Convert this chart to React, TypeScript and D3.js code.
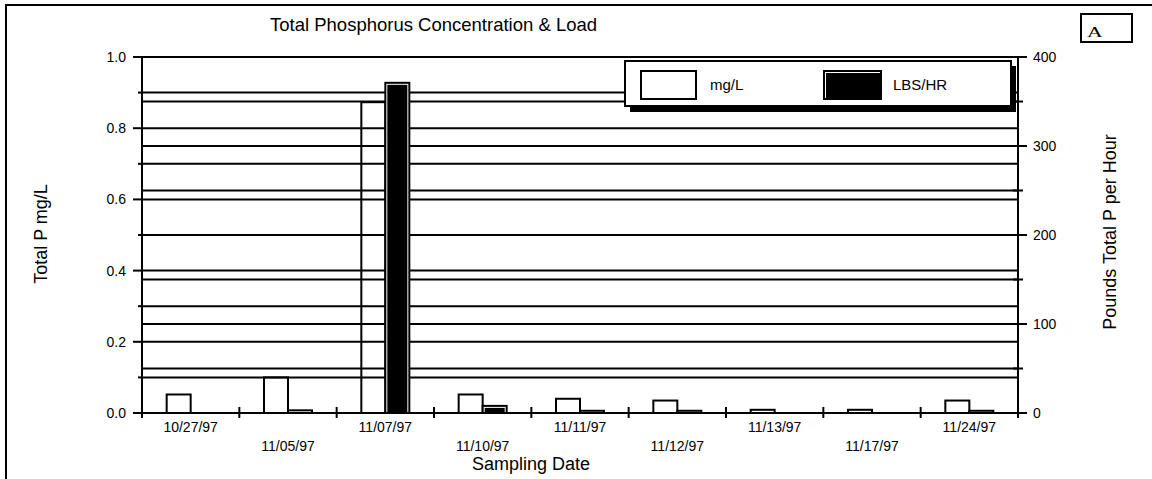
import React from "react";
import * as d3 from "d3";

const categories = ["10/27/97", "11/05/97", "11/07/97", "11/10/97", "11/11/97", "11/12/97", "11/13/97", "11/17/97", "11/24/97"];
const mgL = [0.052, 0.1, 0.873, 0.052, 0.04, 0.035, 0.009, 0.009, 0.035];
const lbsHr = [0, 3, 371, 8, 2.5, 2.5, 0, 0, 2.5];
const seriesNames = ["mg/L", "LBS/HR"];
const leftTicks = [0, 0.2, 0.4, 0.6, 0.8, 1.0];
const leftMinor = [0.1, 0.3, 0.5, 0.7, 0.9];
const rightTicks = [0, 100, 200, 300, 400];
const rightMinor = [50, 150, 250, 350];

const W = 1152, H = 479;
const L = 142, R = 1018, T = 57, B = 413;
const FONT = "'Liberation Sans', Arial, sans-serif";

export default function App() {
  const x = d3.scaleBand<string>().domain(categories).range([L, R]).padding(0);
  const bw = x.bandwidth();
  const sub = d3.scaleBand<string>().domain(seriesNames).range([bw / 2 - 24, bw / 2 + 24]).padding(0);
  const yL = d3.scaleLinear().domain([0, 1]).range([B, T]);
  const yR = d3.scaleLinear().domain([0, 400]).range([B, T]);
  const sw = sub.bandwidth();

  const gridL = d3.range(0, 11).map((i) => i / 10);
  const gridR = d3.range(0, 9).map((i) => i * 50);

  return (
    <svg width={W} height={H} style={{ position: "absolute", left: 0, top: 0, background: "#fff" }} fontFamily={FONT}>
      <rect x={6} y={5} width={1300} height={700} fill="none" stroke="#000" strokeWidth={2} />
      <text x={270} y={31} fontSize={18.5}>Total Phosphorus Concentration &amp; Load</text>
      <rect x={1081} y={14} width={51} height={28} fill="none" stroke="#000" strokeWidth={2} />
      <text transform="translate(1087,37) scale(1.45,1)" fontSize={15} fontFamily="'Liberation Serif', 'Times New Roman', serif">A</text>

      {/* gridlines */}
      {gridL.map((v) => (
        <line key={"gl" + v} x1={L} x2={R} y1={yL(v)} y2={yL(v)} stroke="#000" strokeWidth={2} />
      ))}
      {gridR.map((v) => (
        <line key={"gr" + v} x1={L} x2={R} y1={yR(v)} y2={yR(v)} stroke="#000" strokeWidth={2} />
      ))}

      {/* mg/L bars */}
      {categories.map((c, i) => (
        <rect key={"m" + c} x={(x(c) as number) + (sub("mg/L") as number)} y={yL(mgL[i])} width={sw} height={B - yL(mgL[i])}
          fill="none" stroke="#000" strokeWidth={2} />
      ))}
      {/* LBS/HR bars */}
      {categories.map((c, i) => {
        const bx = (x(c) as number) + (sub("LBS/HR") as number);
        const by = yR(lbsHr[i]);
        const h = B - by;
        if (h <= 0) return null;
        return (
          <g key={"b" + c}>
            <rect x={bx} y={by} width={sw} height={h} fill="#fff" stroke="#000" strokeWidth={2} />
            {h > 4 && <rect x={bx + 2} y={by + 2} width={sw - 4} height={h - 2} fill="#000" />}
          </g>
        );
      })}

      {/* axes */}
      <line x1={L} x2={L} y1={T} y2={B} stroke="#000" strokeWidth={2} />
      <line x1={R} x2={R} y1={T} y2={B} stroke="#000" strokeWidth={2} />
      <line x1={L - 9} x2={R + 9} y1={B} y2={B} stroke="#000" strokeWidth={2} />
      {leftTicks.map((v) => (
        <g key={"lt" + v}>
          <line x1={L - 9} x2={L} y1={yL(v)} y2={yL(v)} stroke="#000" strokeWidth={2} />
          <text x={126} y={yL(v)} dy="0.35em" textAnchor="end" fontSize={14}>{d3.format(".1f")(v)}</text>
        </g>
      ))}
      {leftMinor.map((v) => (
        <line key={"lm" + v} x1={L - 4} x2={L} y1={yL(v)} y2={yL(v)} stroke="#000" strokeWidth={2} />
      ))}
      {rightTicks.map((v) => (
        <g key={"rt" + v}>
          <line x1={R} x2={R + 9} y1={yR(v)} y2={yR(v)} stroke="#000" strokeWidth={2} />
          <text x={1033} y={yR(v)} dy="0.35em" textAnchor="start" fontSize={14}>{v}</text>
        </g>
      ))}
      {rightMinor.map((v) => (
        <line key={"rm" + v} x1={R - 5} x2={R + 5} y1={yR(v)} y2={yR(v)} stroke="#000" strokeWidth={2} />
      ))}
      {/* x ticks at band boundaries */}
      {categories.slice(1).map((c) => (
        <line key={"xt" + c} x1={x(c) as number} x2={x(c) as number} y1={B - 6} y2={B + 5} stroke="#000" strokeWidth={2} />
      ))}
      <line x1={L} x2={L} y1={B} y2={B + 5} stroke="#000" strokeWidth={2} />
      <line x1={R} x2={R} y1={B} y2={B + 5} stroke="#000" strokeWidth={2} />
      {categories.map((c, i) => (
        <text key={"xl" + c} x={(x(c) as number) + bw / 2} y={i % 2 === 0 ? 432 : 451} textAnchor="middle" fontSize={14}>{c}</text>
      ))}

      {/* axis titles */}
      <text x={531} y={470} textAnchor="middle" fontSize={18}>Sampling Date</text>
      <text transform={`translate(47,234) rotate(-90)`} textAnchor="middle" fontSize={18}>Total P mg/L</text>
      <text transform={`translate(1116,232) rotate(-90)`} textAnchor="middle" fontSize={18}>Pounds Total P per Hour</text>

      {/* legend */}
      <rect x={630} y={66} width={386} height={46} fill="#000" />
      <rect x={625} y={61} width={386} height={45} fill="#fff" stroke="#000" strokeWidth={2} />
      <rect x={641} y={71} width={55} height={28} fill="#fff" stroke="#000" strokeWidth={2} />
      <text x={710} y={90} fontSize={15}>{seriesNames[0]}</text>
      <rect x={824} y={71} width={57} height={28} fill="#fff" stroke="#000" strokeWidth={2} />
      <rect x={826} y={73} width={54} height={26} fill="#000" />
      <text x={893} y={90} fontSize={15}>{seriesNames[1]}</text>
    </svg>
  );
}
